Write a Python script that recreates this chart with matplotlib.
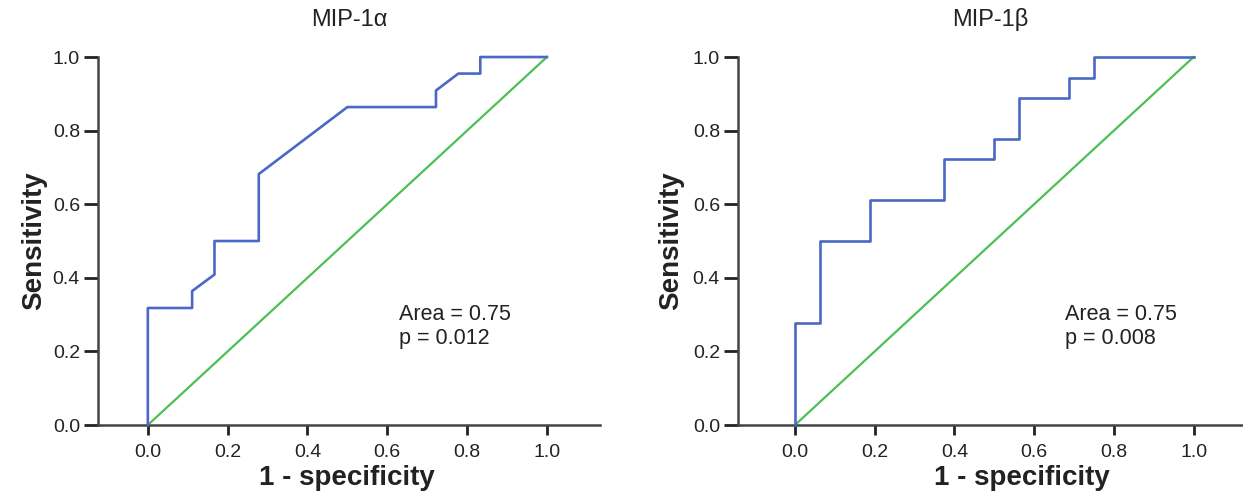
import matplotlib
matplotlib.use("Agg")
import matplotlib.pyplot as plt

plt.rcParams['font.family'] = ['Liberation Sans', 'DejaVu Sans']

# ROC curve MIP-1alpha
fpr_a = [0.0, 0.0, 0.111, 0.111, 0.167, 0.167, 0.278, 0.278, 0.5, 0.722, 0.722, 0.778, 0.833, 0.833, 1.0]
tpr_a = [0.0, 0.318, 0.318, 0.364, 0.409, 0.5, 0.5, 0.682, 0.864, 0.864, 0.909, 0.955, 0.955, 1.0, 1.0]

# ROC curve MIP-1beta
fpr_b = [0.0, 0.0, 0.062, 0.062, 0.188, 0.188, 0.375, 0.375, 0.5, 0.5, 0.562, 0.562, 0.688, 0.688, 0.75, 0.75, 1.0]
tpr_b = [0.0, 0.278, 0.278, 0.5, 0.5, 0.611, 0.611, 0.722, 0.722, 0.778, 0.778, 0.889, 0.889, 0.944, 0.944, 1.0, 1.0]

titles = ['MIP-1α', 'MIP-1β']
areas = ['0.75', '0.75']
pvals = ['0.012', '0.008']
ticks = [0.0, 0.2, 0.4, 0.6, 0.8, 1.0]

blue = '#4a68c4'
green = '#4cbf55'
axc = '#444444'

fig = plt.figure(figsize=(12.43, 4.95), dpi=100)
ax1 = fig.add_axes([0.0788, 0.1414, 0.4039, 0.7434])
ax2 = fig.add_axes([0.5937, 0.1414, 0.4063, 0.7434])

panels = [
    (ax1, fpr_a, tpr_a, (-0.125, 1.133), 0.63, (-0.102, 0.496)),
    (ax2, fpr_b, tpr_b, (-0.143, 1.124), 0.678, (-0.107, 0.562)),
]

for i, (ax, fx, ty, xl, tx, lab) in enumerate(panels):
    ax.plot([0, 1], [0, 1], color=green, lw=1.6, clip_on=False, zorder=2)
    ax.plot(fx, ty, color=blue, lw=1.9, clip_on=False, zorder=3)
    ax.set_xlim(*xl)
    ax.set_ylim(0, 1)
    ax.set_xticks(ticks)
    ax.set_yticks(ticks)
    ax.set_xticklabels([f'{t:.1f}' for t in ticks])
    ax.set_yticklabels([f'{t:.1f}' for t in ticks])
    for s in ['top', 'right']:
        ax.spines[s].set_visible(False)
    for s in ['left', 'bottom']:
        ax.spines[s].set_color(axc)
        ax.spines[s].set_linewidth(1.8)
    ax.tick_params(axis='x', length=7, width=2, color='#222222', labelsize=14,
                   labelcolor='#222222', pad=7)
    ax.tick_params(axis='y', length=10, width=2, color='#222222', labelsize=14,
                   labelcolor='#222222', pad=3)
    ax.set_title(titles[i], fontsize=17, pad=22, color='#222222')
    ax.set_xlabel('1 - specificity', fontsize=20, fontweight='bold', color='#222222')
    ax.set_ylabel('Sensitivity', fontsize=20, fontweight='bold', color='#222222')
    ax.yaxis.set_label_coords(lab[0], 0.5)
    ax.xaxis.set_label_coords(lab[1], -0.108)
    ax.text(tx, 0.328, f'Area = {areas[i]}\np = {pvals[i]}', fontsize=15.5,
            va='top', ha='left', linespacing=1.15, color='#222222')

fig.savefig('out.png', dpi=100)
